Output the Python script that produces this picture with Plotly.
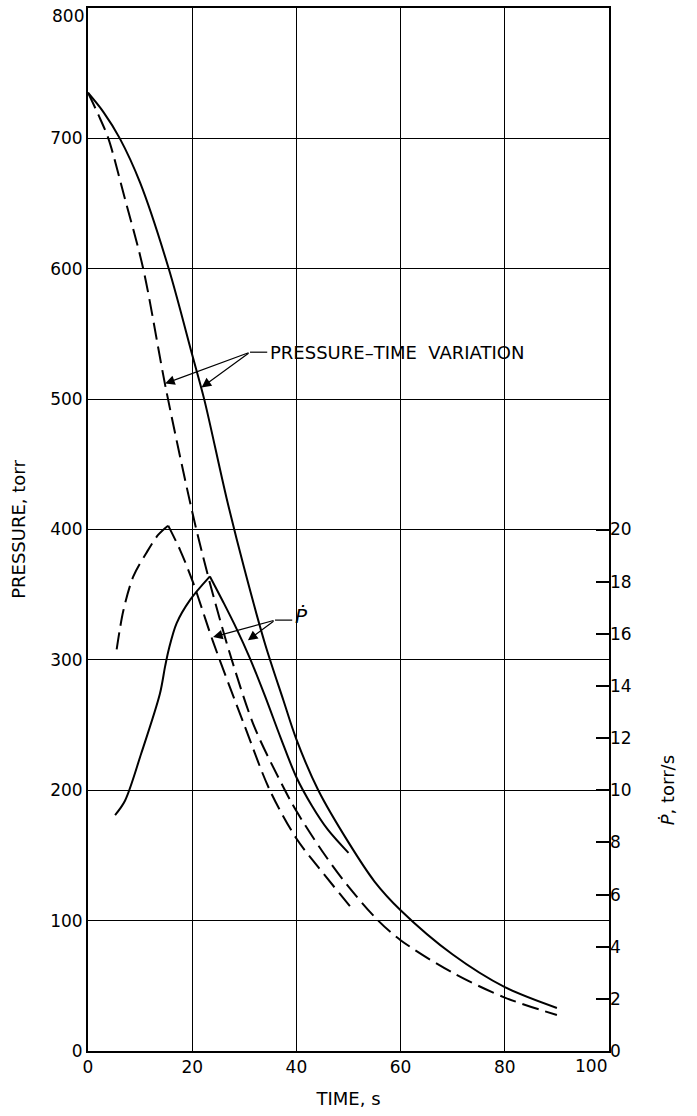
import plotly.graph_objects as go

# Pressure-time variation (torr) -- solid and dashed cases
t_p_solid = [0, 3, 6.1, 10, 15.5, 20, 22.3, 26.6, 30, 34, 37.5, 40, 44.2, 50, 55, 60, 70, 80, 90]
p_solid = [735, 720, 700, 666, 600, 534, 500, 424, 370, 312, 269, 239, 200, 160, 130, 108, 74, 49, 33]

t_p_dash = [0, 2, 3.9, 7, 10.6, 15, 20.5, 24, 27.6, 32, 37.8, 40, 45, 50, 55.7, 60, 70, 80, 90]
p_dash = [735, 718, 700, 655, 600, 507, 405, 350, 300, 248, 200, 184, 153, 126, 100, 85, 60, 41, 27.6]

# Pressure rate (torr/s), split at the peak so the cusp stays sharp
t_pd_solid_up = [5.2, 7.1, 10.2, 13.8, 14.8, 15.5, 17.0, 19.6, 23.4]
pd_solid_up = [9.05, 9.6, 11.4, 13.7, 14.75, 15.4, 16.4, 17.3, 18.2]
t_pd_solid_down = [23.4, 26, 28.5, 31, 34, 37, 40, 43, 46, 50]
pd_solid_down = [18.2, 17.2, 16.2, 15.1, 13.6, 12.0, 10.5, 9.4, 8.5, 7.6]

t_pd_dash_up = [5.5, 6.8, 8.7, 11.2, 13.5, 15.4]
pd_dash_up = [15.4, 16.9, 18.2, 19.1, 19.8, 20.15]
t_pd_dash_down = [15.4, 17.7, 20.2, 24, 30, 34.9, 40, 44.2, 50.3]
pd_dash_down = [20.15, 19.2, 17.95, 15.7, 12.5, 10.0, 8.15, 7.05, 5.55]

x_ticks = [0, 20, 40, 60, 80, 100]
x_tick_text = ["0", "20", "40", "60", "80", ""]
y_ticks = [0, 100, 200, 300, 400, 500, 600, 700, 800]
y_tick_text = ["0", "100", "200", "300", "400", "500", "600", "700", ""]
y2_ticks = [0, 2, 4, 6, 8, 10, 12, 14, 16, 18, 20]

FONT = "DejaVu Sans"
DASH = "17px,7px"
LW = 2

fig = go.Figure()

def curve(x, y, dashed, axis):
    fig.add_trace(go.Scatter(
        x=x, y=y, mode="lines", yaxis=axis, hoverinfo="skip",
        line=dict(color="black", width=LW, shape="spline", smoothing=0.9,
                  dash=DASH if dashed else "solid"),
    ))

curve(t_p_solid, p_solid, False, "y")
curve(t_p_dash, p_dash, True, "y")
curve(t_pd_solid_up, pd_solid_up, False, "y2")
curve(t_pd_solid_down, pd_solid_down, False, "y2")
curve(t_pd_dash_up, pd_dash_up, True, "y2")
curve(t_pd_dash_down, pd_dash_down, True, "y2")

axis_common = dict(
    showgrid=True, gridcolor="black", gridwidth=1,
    showline=True, linecolor="black", linewidth=2, mirror=True,
    ticks="", zeroline=False, automargin=False,
    tickfont=dict(family=FONT, size=17, color="black"),
)

fig.update_layout(
    width=697, height=1116,
    margin=dict(l=88, r=88, t=8, b=65),
    paper_bgcolor="white", plot_bgcolor="white",
    showlegend=False,
    font=dict(family=FONT, size=17, color="black"),
    xaxis=dict(range=[0, 100], tickvals=x_ticks, ticktext=x_tick_text,
               title=dict(text="TIME, s", standoff=16,
                          font=dict(family=FONT, size=18)),
               **axis_common),
    yaxis=dict(range=[0, 800], tickvals=y_ticks, ticktext=y_tick_text,
               title=dict(text="PRESSURE, torr", standoff=20,
                          font=dict(family=FONT, size=18)),
               **axis_common),
    yaxis2=dict(overlaying="y", side="right", range=[0, 40], tickvals=y2_ticks,
                ticks="inside", ticklen=13, tickwidth=1.5, tickcolor="black",
                showgrid=False, showline=False, zeroline=False, automargin=False,
                tickfont=dict(family=FONT, size=17, color="black")),
)

# Top pressure tick, set just under the frame so it stays on the page
fig.add_annotation(xref="paper", yref="y", x=0, y=800, xanchor="right", yanchor="middle",
                   xshift=-2, yshift=-8, text="800", showarrow=False,
                   font=dict(family=FONT, size=17))

# Last time tick, set flush with the frame's right edge
fig.add_annotation(xref="x", yref="paper", x=100, y=0, xanchor="right", yanchor="top",
                   yshift=-3, text="100", showarrow=False,
                   font=dict(family=FONT, size=17))

# Right-axis title, centred on the 0-20 torr/s span
fig.add_annotation(xref="paper", yref="y2", x=1.0, y=10, xshift=58,
                   xanchor="center", yanchor="middle",
                   text="<i>Ṗ</i>, torr/s", textangle=-90, showarrow=False,
                   font=dict(family=FONT, size=18))

# Callout: pressure-time variation
fig.add_shape(type="line", xref="x", yref="y", x0=31.1, y0=536, x1=34.4, y1=536,
              line=dict(color="black", width=1.2))
fig.add_annotation(xref="x", yref="y", x=34.6, y=536, xanchor="left",
                   text="PRESSURE\u2013TIME  VARIATION", showarrow=False,
                   font=dict(family=FONT, size=18))
for hx, hy in [(14.8, 512), (21.8, 509)]:
    fig.add_annotation(xref="x", yref="y", x=hx, y=hy, axref="x", ayref="y",
                       ax=31.1, ay=536, text="", showarrow=True,
                       arrowhead=2, arrowsize=1.6, arrowwidth=1.2, arrowcolor="black")

# Callout: pressure rate
fig.add_shape(type="line", xref="x", yref="y", x0=35.9, y0=330.5, x1=39.2, y1=330.5,
              line=dict(color="black", width=1.2))
fig.add_annotation(xref="x", yref="y", x=39.4, y=334, xanchor="left",
                   text="<i>Ṗ</i>", showarrow=False,
                   font=dict(family=FONT, size=20))
for hx, hy in [(24.0, 317.5), (30.7, 315)]:
    fig.add_annotation(xref="x", yref="y", x=hx, y=hy, axref="x", ayref="y",
                       ax=35.9, ay=330.5, text="", showarrow=True,
                       arrowhead=2, arrowsize=1.6, arrowwidth=1.2, arrowcolor="black")

fig.write_html("out.html")
